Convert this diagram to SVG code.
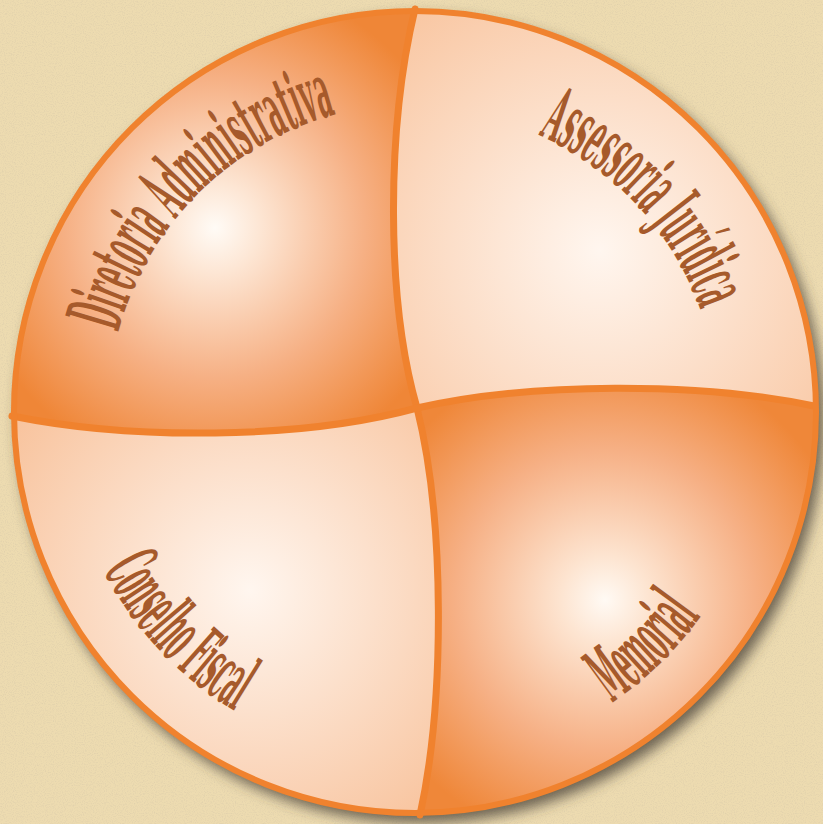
<svg xmlns="http://www.w3.org/2000/svg" xmlns:xlink="http://www.w3.org/1999/xlink" width="823" height="824" viewBox="0 0 823 824">
  <style>
    .lbl { font-family: "DejaVu Serif", "Liberation Serif", serif; font-weight: bold; font-size: 76px; fill: #a65a2b; }
    .divider { fill: none; stroke: #f0822e; stroke-width: 7; stroke-linecap: round; }
    .rim { fill: none; stroke: #f0822e; stroke-width: 6; }
  </style>
  <defs>
    <filter id="paper" x="0" y="0" width="100%" height="100%">
      <feTurbulence type="fractalNoise" baseFrequency="0.9" numOctaves="2" seed="3" result="n"/>
      <feColorMatrix in="n" type="matrix" values="0 0 0 0 0.6  0 0 0 0 0.52  0 0 0 0 0.38  0 0 0 -1.8 1.0" result="s"/>
      <feComposite in="s" in2="SourceGraphic" operator="in"/>
    </filter>
    <filter id="shadow" x="-10%" y="-10%" width="125%" height="125%">
      <feDropShadow dx="6" dy="8" stdDeviation="7" flood-color="#3f3a30" flood-opacity="0.75"/>
    </filter>
    <clipPath id="disc"><circle cx="415" cy="412" r="403"/></clipPath>
    <radialGradient id="gTL" gradientUnits="userSpaceOnUse" cx="215" cy="228" r="250">
      <stop offset="0" stop-color="#fffbf6"/>
      <stop offset="0.18" stop-color="#fde6d4"/>
      <stop offset="0.6" stop-color="#f6b084"/>
      <stop offset="1" stop-color="#ef8637"/>
    </radialGradient>
    <radialGradient id="gTR" gradientUnits="userSpaceOnUse" cx="600" cy="250" r="300">
      <stop offset="0" stop-color="#fff6ef"/>
      <stop offset="1" stop-color="#f9c7a3"/>
    </radialGradient>
    <radialGradient id="gBL" gradientUnits="userSpaceOnUse" cx="250" cy="590" r="290">
      <stop offset="0" stop-color="#fff6ef"/>
      <stop offset="1" stop-color="#f8c39d"/>
    </radialGradient>
    <radialGradient id="gBR" gradientUnits="userSpaceOnUse" cx="605" cy="600" r="250">
      <stop offset="0" stop-color="#fffaf4"/>
      <stop offset="0.18" stop-color="#fde4d0"/>
      <stop offset="0.6" stop-color="#f6b085"/>
      <stop offset="1" stop-color="#ef8739"/>
    </radialGradient>
    <path id="pDir" d="M 118.3 332.6 A 307 307 0 0 1 349.9 111"/>
    <path id="pAss" d="M 538.4 134.9 A 302 302 0 0 1 703.8 320.1"/>
    <path id="pCon" d="M 103.1 569.9 A 350 350 0 0 0 240 714.1"/>
    <path id="pMem" d="M 611.8 702.8 A 352 352 0 0 0 703.3 612.9"/>
  </defs>

  <rect id="background" x="0" y="0" width="823" height="824" fill="#eddbb0"/>
  <rect x="0" y="0" width="823" height="824" fill="#eddbb0" filter="url(#paper)" opacity="0.45"/>

  <circle cx="415" cy="412" r="403" fill="#f3a56c" filter="url(#shadow)"/>

  <g clip-path="url(#disc)">
    <g id="diretoria-administrativa">
      <path d="M -20 416 L 12 416 C 130 440 300 440 417 408 C 386 300 386 130 415 9 L 415 -20 L -20 -20 Z" fill="url(#gTL)"/>
    </g>
    <g id="assessoria-juridica">
      <path d="M 415 -20 L 415 9 C 386 130 386 300 417 408 C 530 382 700 382 814 406 L 843 406 L 843 -20 Z" fill="url(#gTR)"/>
    </g>
    <g id="memorial">
      <path d="M 843 406 L 814 406 C 700 382 530 382 417 408 C 445 520 445 700 420 815 L 420 844 L 843 844 Z" fill="url(#gBR)"/>
    </g>
    <g id="conselho-fiscal">
      <path d="M 420 844 L 420 815 C 445 700 445 520 417 408 C 300 440 130 440 12 416 L -20 416 L -20 844 Z" fill="url(#gBL)"/>
    </g>
  </g>

  <g id="connectors">
    <path class="divider" d="M 415 9 C 386 130 386 300 417 408 C 445 520 445 700 420 815"/>
    <path class="divider" d="M 12 416 C 130 440 300 440 417 408 C 530 382 700 382 814 406"/>
  </g>

  <circle class="rim" cx="415" cy="412" r="401"/>

  <g id="labels">
    <text class="lbl"><textPath xlink:href="#pDir" href="#pDir" textLength="323" lengthAdjust="spacingAndGlyphs">Diretoria Administrativa</textPath></text>
    <text class="lbl"><textPath xlink:href="#pAss" href="#pAss" textLength="245" lengthAdjust="spacingAndGlyphs">Assessoria Jurídica</textPath></text>
    <text class="lbl"><textPath xlink:href="#pCon" href="#pCon" textLength="195" lengthAdjust="spacingAndGlyphs">Conselho Fiscal</textPath></text>
    <text class="lbl"><textPath xlink:href="#pMem" href="#pMem" textLength="125" lengthAdjust="spacingAndGlyphs">Memorial</textPath></text>
  </g>
</svg>
